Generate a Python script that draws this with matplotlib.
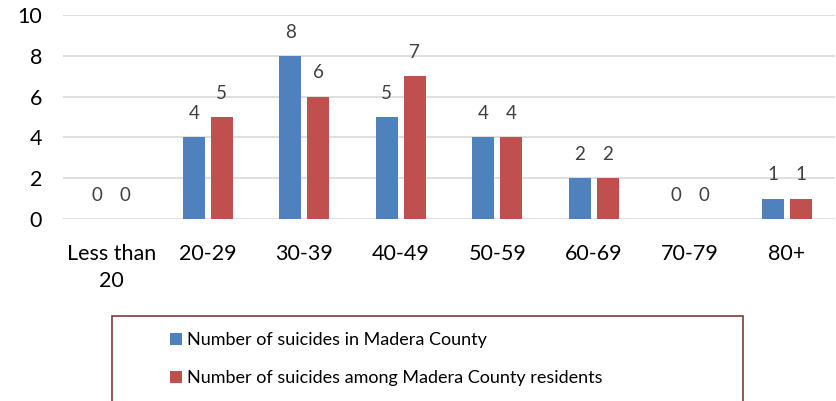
import matplotlib
matplotlib.use("Agg")
import matplotlib.pyplot as plt
from matplotlib.patches import Rectangle
import numpy as np

categories = ["Less than\n20", "20-29", "30-39", "40-49", "50-59", "60-69", "70-79", "80+"]
in_county = [0, 4, 8, 5, 4, 2, 0, 1]
residents = [0, 5, 6, 7, 4, 2, 0, 1]
series_names = ["Number of suicides in Madera County",
                "Number of suicides among Madera County residents"]
yticks = [0, 2, 4, 6, 8, 10]

plt.rcParams['font.family'] = ['Lato', 'DejaVu Sans']
blue = "#4F81BD"
red = "#C0504D"

fig = plt.figure(figsize=(8.37, 4.01), dpi=100)
ax = fig.add_axes([63/837, 1 - 219/401, (835-63)/837, (219-15)/401])

x = np.arange(len(categories))
w = 0.225
off = 0.145
b1 = ax.bar(x - off, in_county, w, color=blue, label=series_names[0], zorder=3)
b2 = ax.bar(x + off, residents, w, color=red, label=series_names[1], zorder=3)

for bars, vals in ((b1, in_county), (b2, residents)):
    for rect, v in zip(bars, vals):
        ax.annotate(str(v), (rect.get_x() + rect.get_width()/2, v),
                    xytext=(0, 11), textcoords="offset points",
                    ha="center", va="bottom", fontsize=13.5, color="#404040",
                    fontweight="normal")

ax.set_xlim(-0.5, len(categories) - 0.5)
ax.set_ylim(0, 10)
ax.set_yticks(yticks)
ax.set_xticks(x)
ax.set_xticklabels(categories, fontsize=15.5, color="#000000", linespacing=1.45,
                   fontweight="normal")
for t in ax.get_yticklabels():
    t.set_fontweight("normal")
ax.tick_params(axis='y', length=0, pad=15, labelsize=15.5, labelcolor="#000000")
ax.tick_params(axis='x', length=0, pad=18)
ax.grid(axis='y', color="#D9D9D9", linewidth=1.2, zorder=0)
for s in ax.spines.values():
    s.set_visible(False)

# legend frame
frame = Rectangle((112/837, -0.05), (743-112)/837, (1 - 316/401) + 0.05,
                  transform=fig.transFigure, fill=False,
                  edgecolor="#7F3B3B", linewidth=1.2)
fig.patches.append(frame)
leg = fig.legend(handles=[b1, b2], loc="upper left",
                 bbox_to_anchor=(154/837, 1 - 316/401),
                 frameon=False, fontsize=13, handlelength=0.65, handleheight=0.65,
                 handletextpad=0.3, labelspacing=1.2)

fig.savefig("out.png", dpi=100)
